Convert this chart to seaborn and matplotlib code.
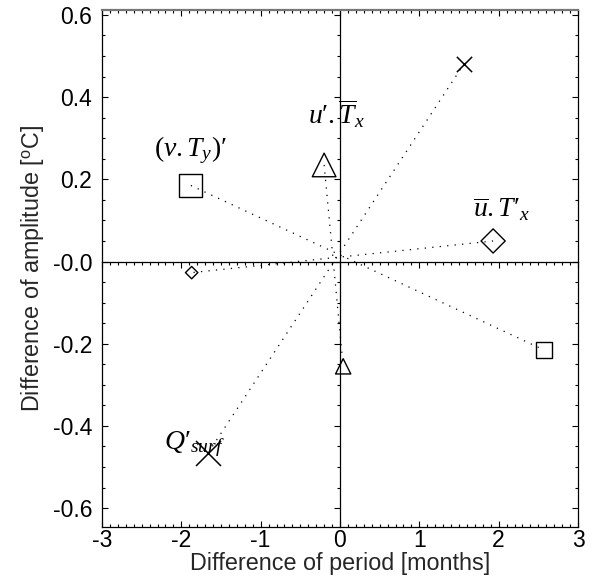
import matplotlib
matplotlib.use("Agg")
import matplotlib.pyplot as plt
import seaborn as sns
from matplotlib.ticker import MultipleLocator, FixedLocator

# ---- data ----
terms = ["(v.Ty)'", "u'.Tx_bar", "u_bar.Tx'", "Qsurf'"]
term_labels = [r"$(v{.}T_y)$′", r"$u$′$.\overline{T}_x$", r"$\overline{u}{.}T$′$_x$", r"$Q$′$_{surf}$"]
big_period = [-1.88, -0.20, 1.93, -1.66]
big_amp = [0.185, 0.235, 0.05, -0.465]
small_period = [2.57, 0.04, -1.87, 1.56]
small_amp = [-0.215, -0.255, -0.027, 0.48]
x_ticks = [-3, -2, -1, 0, 1, 2, 3]
y_ticks = [0.6, 0.4, 0.2, 0.0, -0.2, -0.4, -0.6]
y_tick_labels = ["0.6", "0.4", "0.2", "-0.0", "-0.2", "-0.4", "-0.6"]

# ---- style ----
markers = ["s", "^", "D", "x"]
big_ms = [16.5, 17, 12.3, 18]
small_ms = [11, 11, 6.3, 11]
label_pos = [(-1.88, 0.27), (-0.04, 0.36), (2.03, 0.127), (-1.84, -0.445)]

sns.set_theme(style="white")
plt.rcParams["font.family"] = ["Liberation Sans", "DejaVu Sans"]
plt.rcParams["mathtext.fontset"] = "custom"
plt.rcParams["mathtext.it"] = "Liberation Serif:italic"
plt.rcParams["mathtext.rm"] = "Liberation Serif"
plt.rcParams["mathtext.sf"] = "Liberation Sans"

fig = plt.figure(figsize=(5.92, 5.78), dpi=100)
xmin, xmax = -3, 3
ymin, ymax = -0.645, 0.612
ax = fig.add_axes([102 / 592, 1 - 526.6 / 578, 476 / 592, 516.6 / 578])
ax.set_xlim(xmin, xmax)
ax.set_ylim(ymin, ymax)

for i in range(len(terms)):
    sns.lineplot(x=[big_period[i], small_period[i]], y=[big_amp[i], small_amp[i]],
                 sort=False, estimator=None, color="black", linestyle=(0, (1, 5)),
                 linewidth=0.9, ax=ax, zorder=2)
for i in range(len(terms)):
    m = markers[i]
    for px, py, ms in [(big_period[i], big_amp[i], big_ms[i]), (small_period[i], small_amp[i], small_ms[i])]:
        if m == "x":
            sns.scatterplot(x=[px], y=[py], marker=m, s=ms ** 2, color="black",
                            linewidth=1.1, ax=ax, zorder=3)
        else:
            sns.scatterplot(x=[px], y=[py], marker=m, s=ms ** 2, facecolor="none",
                            edgecolor="black", linewidth=1.0, ax=ax, zorder=3)
    ax.text(label_pos[i][0], label_pos[i][1], term_labels[i], fontsize=20,
            family=["Liberation Serif", "DejaVu Serif"],
            ha="center", va="center", color="black")

ax.set_xticks(x_ticks)
ax.set_xticklabels([str(t) for t in x_ticks])
ax.set_yticks(y_ticks)
ax.set_yticklabels(y_tick_labels)
ax.xaxis.set_minor_locator(MultipleLocator(0.1))
ax.yaxis.set_minor_locator(MultipleLocator(0.05))
ax.tick_params(which="both", direction="in", top=True, right=True, bottom=True, left=True,
               labelsize=16.5, colors="black")
ax.tick_params(which="major", length=4, width=0.8)
ax.tick_params(which="minor", length=2, width=0.8)
ax.tick_params(axis="x", which="major", pad=2)
ax.tick_params(axis="y", which="major", pad=7)
for s in ax.spines.values():
    s.set_color("black")
    s.set_linewidth(0.9)
ax.spines["top"].set_color("#777777")
ax.spines["top"].set_linewidth(1.6)

ax.set_xlabel("Difference of period [months]", fontsize=16.8, labelpad=0)
ax.set_ylabel(r"Difference of amplitude [$^{\mathsf{o}}$C]", fontsize=16.8, labelpad=5)

# zero lines with ticks
y0 = (0 - ymin) / (ymax - ymin)
secx = ax.secondary_xaxis(y0)
secx.xaxis.set_major_locator(FixedLocator(x_ticks))
secx.xaxis.set_minor_locator(MultipleLocator(0.1))
secx.xaxis.set_ticks_position("top")
secx.tick_params(which="both", direction="in", labeltop=False, labelbottom=False, colors="black")
secx.tick_params(which="major", length=4, width=0.8)
secx.tick_params(which="minor", length=2, width=0.8)
for s in secx.spines.values():
    s.set_color("black")
    s.set_linewidth(0.9)

x0 = (0 - xmin) / (xmax - xmin)
secy = ax.secondary_yaxis(x0)
secy.yaxis.set_major_locator(FixedLocator(y_ticks))
secy.yaxis.set_minor_locator(MultipleLocator(0.05))
secy.yaxis.set_ticks_position("right")
secy.tick_params(which="both", direction="in", labelleft=False, labelright=False, colors="black")
secy.tick_params(which="major", length=4, width=0.8)
secy.tick_params(which="minor", length=2, width=0.8)
for s in secy.spines.values():
    s.set_color("black")
    s.set_linewidth(0.9)

fig.savefig("out.png", dpi=100)
